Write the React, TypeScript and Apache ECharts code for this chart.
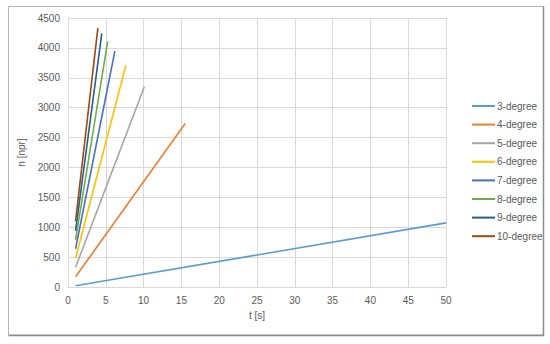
import React, { useEffect, useRef } from "react";
import * as echarts from "echarts";

const seriesNames = ["3-degree", "4-degree", "5-degree", "6-degree", "7-degree", "8-degree", "9-degree", "10-degree"];
const colors = ["#5B9BD5", "#ED7D31", "#A5A5A5", "#FFC000", "#4472C4", "#70AD47", "#255E91", "#9E480E"];
const startT = [1, 1, 1, 1, 1, 1, 1, 1];
const startN = [20, 170, 330, 480, 640, 790, 940, 1100];
const endT = [50, 15.5, 10.1, 7.65, 6.2, 5.25, 4.47, 3.95];
const endN = [1073, 2735, 3350, 3705, 3947, 4108, 4242, 4332];

const FONT = "Liberation Sans";
const TXT = "#595959";

export default function App() {
  const ref = useRef<HTMLDivElement>(null);
  useEffect(() => {
    if (!ref.current) return;
    const chart = echarts.init(ref.current, undefined, { renderer: "svg" });
    chart.setOption({
      animation: false,
      backgroundColor: "#ffffff",
      textStyle: { fontFamily: FONT },
      grid: { left: 68, right: 104, top: 18, bottom: 57 },
      legend: {
        orient: "vertical",
        left: 467,
        top: 96,
        itemWidth: 23,
        itemHeight: 10,
        itemGap: 8.6,
        icon: "path://M0,4 L23,4 L23,6 L0,6 Z",
        textStyle: { color: TXT, fontSize: 10, fontFamily: FONT, padding: [0, 0, 0, -3] },
        data: seriesNames,
      },
      xAxis: {
        type: "value",
        min: 0,
        max: 50,
        interval: 5,
        name: "t [s]",
        nameLocation: "middle",
        nameGap: 23,
        nameTextStyle: { color: TXT, fontSize: 10, fontFamily: FONT },
        axisLine: { show: true, lineStyle: { color: "#d9d9d9", width: 1 } },
        axisTick: { show: false },
        axisLabel: { color: TXT, fontSize: 10, fontFamily: FONT, margin: 8 },
        splitLine: { show: true, lineStyle: { color: "#d9d9d9", width: 1 } },
      },
      yAxis: {
        type: "value",
        min: 0,
        max: 4500,
        interval: 500,
        name: "n [npr]",
        nameLocation: "middle",
        nameGap: 28,
        nameRotate: 90,
        nameTextStyle: { color: TXT, fontSize: 10, fontFamily: FONT },
        axisLine: { show: false },
        axisTick: { show: false },
        axisLabel: { color: TXT, fontSize: 10, fontFamily: FONT, margin: 8, formatter: (v: number) => String(v) },
        splitLine: { show: true, lineStyle: { color: "#d9d9d9", width: 1 } },
      },
      series: seriesNames.map((name, i) => ({
        name,
        type: "line",
        showSymbol: false,
        symbol: "none",
        color: colors[i],
        lineStyle: { width: 1.6, color: colors[i] },
        data: [
          [startT[i], startN[i]],
          [endT[i], endN[i]],
        ],
      })),
      graphic: [
        {
          type: "rect",
          shape: { x: 8.5, y: 6.5, width: 535, height: 328.5 },
          style: { fill: "none", stroke: "#b4b4b4", lineWidth: 1 },
          silent: true,
        },
        {
          type: "polyline",
          shape: { points: [[543.5, 6.5], [543.5, 335.5], [8.5, 335.5]] },
          style: { fill: "none", stroke: "#8c8c8c", lineWidth: 1.5 },
          silent: true,
        },
      ],
    });
    return () => chart.dispose();
  }, []);
  return (
    <div
      ref={ref}
      style={{ position: "fixed", left: 0, top: 0, width: 550, height: 344 }}
    />
  );
}
